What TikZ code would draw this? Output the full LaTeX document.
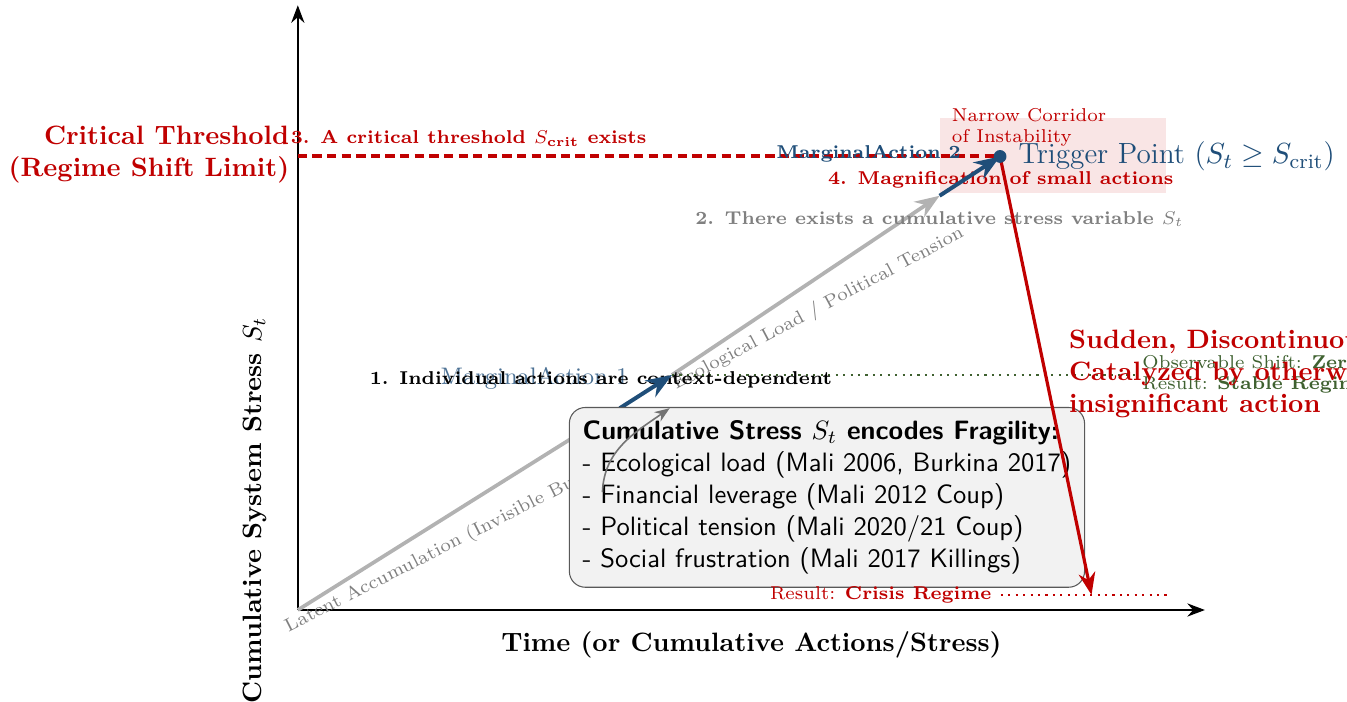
\documentclass[tikz,border=0pt]{standalone}
\usepackage{amsmath}
\usetikzlibrary{arrows.meta}
\definecolor{critred}{HTML}{C00000}
\definecolor{trigblue}{HTML}{1F4E79}
\definecolor{stablegreen}{HTML}{3F6130}
\tikzset{>=Stealth}
\tikzset{steplabel/.style = {font = \scriptsize\bfseries},
  pathline/.style = {gray!60, line width = 1.4pt},
  pathnote/.style = {gray, font = \scriptsize, anchor = base west, inner sep = 0pt},
  marginal/.style = {trigblue, line width = 1.5pt, ->}}

\begin{document}
\begin{tikzpicture}[line join = round]
    \useasboundingbox (-3.94,-1.217) rectangle (13.88,8.07);
    \fill[critred!10] (8.49,5.52) rectangle (11.49,6.51);
    \coordinate (origin) at (0,0);
    \coordinate (xend) at (12,0);
    \coordinate (yend) at (0,8);
    \coordinate (thresh) at (0,6);
    \coordinate (m1start) at (4.26,2.67);
    \coordinate (m1end) at (4.95,3.11);
    \coordinate (m2start) at (8.49,5.48);
    \coordinate (trigger) at (9.29,6);
    \coordinate (crash) at (10.5,0.2);
    \coordinate (stableend) at (11.14,3.11);
    \coordinate (crisisstart) at (9.3,0.2);
    \coordinate (crisisend) at (11.5,0.2);
    \coordinate (boxhook) at (4.03,1.56);
    \coordinate (hooktip) at (4.92,2.67);

    \draw[thick, ->] (origin) -- (xend);
    \draw[thick, ->] (origin) -- (yend);
    \node[font = \bfseries] (xlabel) at (6,-0.46) {Time (or Cumulative Actions/Stress)};
    \node[font = \bfseries, rotate = 90] (ylabel) at (-0.57,1.32) {Cumulative System Stress $S_t$};

    \draw[critred, line width = 1.5pt, dash pattern = on 3.5pt off 2pt] (thresh) -- (trigger);
    \node[critred, font = \bfseries, align = right, anchor = east] (critlabel) at (0.01,6.03) {Critical Threshold\\(Regime Shift Limit)};
    \node[critred, steplabel] (step3) at (2.26,6.24) {3. A critical threshold $S_{\text{crit}}$ exists};

    \draw[pathline] (origin) -- (m1start);
    \node[pathnote, rotate = 27] (latent) at (-0.13,-0.30) {Latent Accumulation (Invisible Buildup)};
    \draw[pathline, ->] (m1end) -- (m2start);
    \node[pathnote, rotate = 28] (ecoload) at (5.0,2.91) {Ecological Load / Political Tension};

    \draw[stablegreen, thick, dotted] (m1end) -- (stableend);
    \node[stablegreen, font = \scriptsize, align = left, anchor = west] (stable) at (11.05,3.12) {Observable Shift: \textbf{Zero}\\Result: \textbf{Stable Regime}};

    \node[trigblue!80, font = \small] (ma1) at (3.13,3.07) {MarginalAction 1};
    \node[steplabel] (step1) at (4.01,3.04) {1. Individual actions are context-dependent};
    \draw[marginal] (m1start) -- (m1end);

    \node[gray, steplabel] (step2) at (8.49,5.17) {2. There exists a cumulative stress variable $S_t$};
    \node[trigblue, steplabel] (ma2) at (7.55,6.03) {MarginalAction 2};
    \node[critred, steplabel] (step4) at (9.30,5.69) {4. Magnification of small actions};
    \node[critred, font = \scriptsize, align = left, anchor = west] (corridor) at (8.53,6.38) {Narrow Corridor\\of Instability};
    \draw[marginal] (m2start) -- (trigger);
    \node[trigblue, font = \fontsize{11}{13}\selectfont, anchor = west] (triglabel) at (9.41,6.0) {Trigger Point ($S_t \geq S_{\text{crit}}$)};

    \node[draw = black!65, fill = gray!10, rounded corners = 6pt, align = left, font = \sffamily, inner sep = 5pt] (fragbox) at (7.0,1.49) {\textbf{Cumulative Stress $S_t$ encodes Fragility:}\\- Ecological load (Mali 2006, Burkina 2017)\\- Financial leverage (Mali 2012 Coup)\\- Political tension (Mali 2020/21 Coup)\\- Social frustration (Mali 2017 Killings)};
    \draw[black!55, semithick, ->] (boxhook) to[out = 88, in = 215] (hooktip);

    \draw[critred, dotted, thick] (crisisstart) -- (crisisend);
    \node[critred, font = \scriptsize, anchor = east] (crisis) at (crisisstart) {Result: \textbf{Crisis Regime}};
    \draw[critred, line width = 1.2pt, ->] (trigger) -- (crash);
    \node[critred, font = \bfseries, align = left, anchor = west] (sudden) at (10.08,3.12) {Sudden, Discontinuous\\Catalyzed by otherwise\\insignificant action};

    \fill[trigblue] (trigger) circle (0.085);
\end{tikzpicture}
\end{document}
